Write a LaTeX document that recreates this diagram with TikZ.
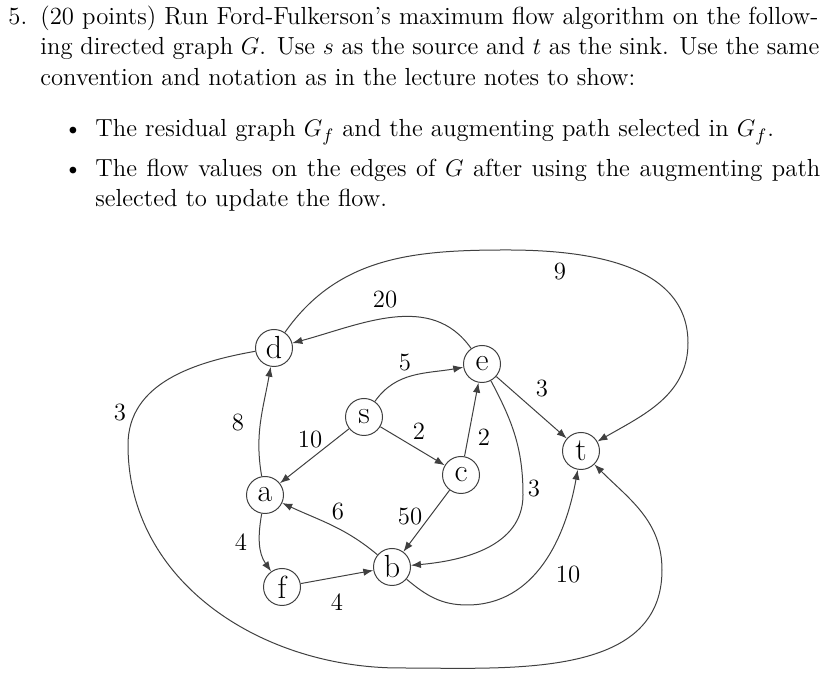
\documentclass[tikz,border=0pt]{standalone}
\usetikzlibrary{arrows.meta}
\begin{document}
\begin{tikzpicture}[x=0.5pt,y=0.5pt,
  vtx/.style={circle,draw=black!75,line width=0.5pt,minimum size=18.5pt,inner sep=0pt,font=\fontsize{16}{16}\selectfont},
  lbl/.style={inner sep=0pt,font=\fontsize{12.4}{12.4}\selectfont},
  edge/.style={draw=black!75,line width=0.5pt,-{Latex[length=5pt,width=3.7pt]}},
  txt/.style={anchor=base west,inner sep=0pt,font=\fontsize{12.35}{15}\selectfont}]
\useasboundingbox (0,0) rectangle (831,678);
% text
\node[txt] (n5) at (8,653) {5.};
\node[txt] (l1) at (40,653) {\makebox[389pt][s]{(20 points) Run Ford-Fulkerson's maximum flow algorithm on the follow-}};
\node[txt] (l2) at (40,623) {\makebox[389.5pt][s]{ing directed graph $G$. Use $s$ as the source and $t$ as the sink. Use the same}};
\node[txt] (l3) at (40,592) {convention and notation as in the lecture notes to show:};
\node[txt,anchor=base] (b1) at (73,541) {\textbullet};
\node[txt] (i1) at (95,541) {The residual graph $G_f$ and the augmenting path selected in $G_f$.};
\node[txt,anchor=base] (b2) at (73,501) {\textbullet};
\node[txt] (i2a) at (95,501) {\makebox[362.5pt][s]{The flow values on the edges of $G$ after using the augmenting path}};
\node[txt] (i2b) at (95,471) {selected to update the flow.};
% vertices
\node[vtx] (d) at (274,330) {d};
\node[vtx] (e) at (482,314) {e};
\node[vtx] (s) at (364,261) {s};
\node[vtx] (t) at (581,227) {t};
\node[vtx] (c) at (461,203) {c};
\node[vtx] (a) at (265,183) {a};
\node[vtx] (b) at (392,111) {b};
\node[vtx] (f) at (282,91) {f};
% edges
\draw[edge] (s) to[out=55,in=190] (e);
\draw[edge] (s) -- (c);
\draw[edge] (s) -- (a);
\draw[edge] (c) -- (e);
\draw[edge] (e) -- (t);
\draw[edge] (e) to[out=125,in=15] (d);
\draw[edge] (a) to[out=100,in=-100] (d);
\draw[edge] (a) to[out=-100,in=125] (f);
\draw[edge] (f) -- (b);
\draw[edge] (b) to[out=140,in=-25] (a);
\draw[edge] (c) -- (b);
\draw[edge] (e) to[out=-62,in=90] (523,183) to[out=-90,in=5] (b);
\draw[edge] (b) to[out=-40,in=180] (467,73) to[out=0,in=-100] (t);
\draw[edge] (d) to[out=55,in=180] (507,428) to[out=0,in=90] (688,335) to[out=-90,in=30] (t);
\draw[edge] (d) to[out=190,in=90] (128,233) to[out=-90,in=180] (400,10) to[out=0,in=-90] (662,108) to[out=90,in=-45] (t);
% labels
\node[lbl] (w1) at (405,315) {5};
\node[lbl] (w2) at (419,247) {2};
\node[lbl] (w3) at (310,238) {10};
\node[lbl] (w4) at (484,241) {2};
\node[lbl] (w5) at (542,289) {3};
\node[lbl] (w6) at (385,378) {20};
\node[lbl] (w7) at (560,406) {9};
\node[lbl] (w8) at (120,265) {3};
\node[lbl] (w9) at (238,255) {8};
\node[lbl] (w10) at (241,136) {4};
\node[lbl] (w11) at (338,166) {6};
\node[lbl] (w12) at (410,161) {50};
\node[lbl] (w13) at (337,76) {4};
\node[lbl] (w14) at (534,189) {3};
\node[lbl] (w15) at (568,103) {10};
\end{tikzpicture}
\end{document}
